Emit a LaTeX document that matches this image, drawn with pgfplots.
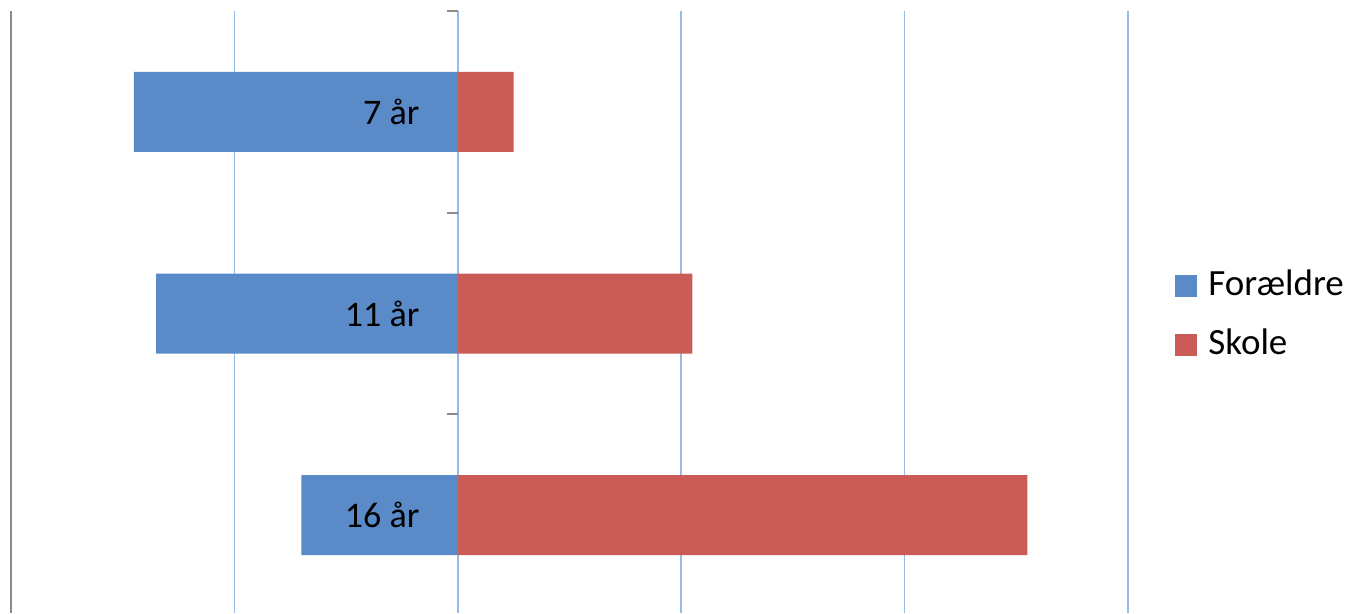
\documentclass[border=0pt]{standalone}
\usepackage{pgfplots}
\pgfplotsset{compat=1.18}
\usepackage{fontspec}
\setmainfont{Carlito}

\definecolor{foraeldre}{RGB}{90,139,200}
\definecolor{skole}{RGB}{203,91,87}
\definecolor{gridblue}{RGB}{150,188,230}
\definecolor{axisgray}{RGB}{140,140,140}

\begin{document}
\begin{tikzpicture}
\begin{axis}[
    name=ax,
    scale only axis,
    width=558.5pt,
    height=301pt,
    xbar,
    bar shift=0pt,
    bar width=40pt,
    xmin=-20, xmax=30,
    ymin=-0.5, ymax=2.485,
    y dir=reverse,
    axis y line=middle,
    axis x line=bottom,
    axis line style={draw=none},
    xtick={-10,0,10,20,30},
    xticklabels={},
    xtick style={draw=none},
    xmajorgrids=true,
    major grid style={gridblue, line width=0.75pt},
    extra x ticks={-20},
    extra x tick labels={},
    extra x tick style={major grid style={axisgray, line width=1.1pt}},
    ytick={0,1,2},
    yticklabels={},
    minor ytick={-0.5,0.5,1.5,2.5},
    major tick length=0pt,
    every minor y tick/.style={axisgray, line width=0.9pt},
    minor tick length=5.5pt,
    tick align=outside,
    legend style={at={(1,0.5)}, anchor=west, xshift=23.5pt, yshift=-1.5pt, draw=none, fill=none,
        inner sep=0pt, row sep=14pt,
        font=\fontsize{18.5}{22}\selectfont,
        nodes={inner sep=0pt, text height=12.5pt, text depth=3pt}},
    legend cell align=left,
    legend image code/.code={\fill[#1] (0pt,-5.5pt) rectangle (11pt,5.5pt);},
]
\addplot[draw=none, fill=foraeldre] coordinates {(-14.5,0) (-13.5,1) (-7.0,2)};
\addlegendentry{\hspace{5.5pt}Forældre}
\addplot[draw=none, fill=skole] coordinates {(2.5,0) (10.5,1) (25.5,2)};
\addlegendentry{\hspace{5.5pt}Skole}
% category names, set at the zero line
\addplot[draw=none, fill=none, forget plot,
    point meta=explicit symbolic,
    nodes near coords,
    every node near coord/.style={anchor=east, inner sep=0pt, xshift=-19pt,
        font=\fontsize{18}{21}\selectfont, text=black}]
    coordinates {(0,0) [7 år] (0,1) [11 år] (0,2) [16 år]};
\end{axis}
\pgfresetboundingbox
\path[use as bounding box] ([xshift=-5.5pt]ax.south west) rectangle ([xshift=111pt,yshift=5.5pt]ax.north east);
\end{tikzpicture}
\end{document}
